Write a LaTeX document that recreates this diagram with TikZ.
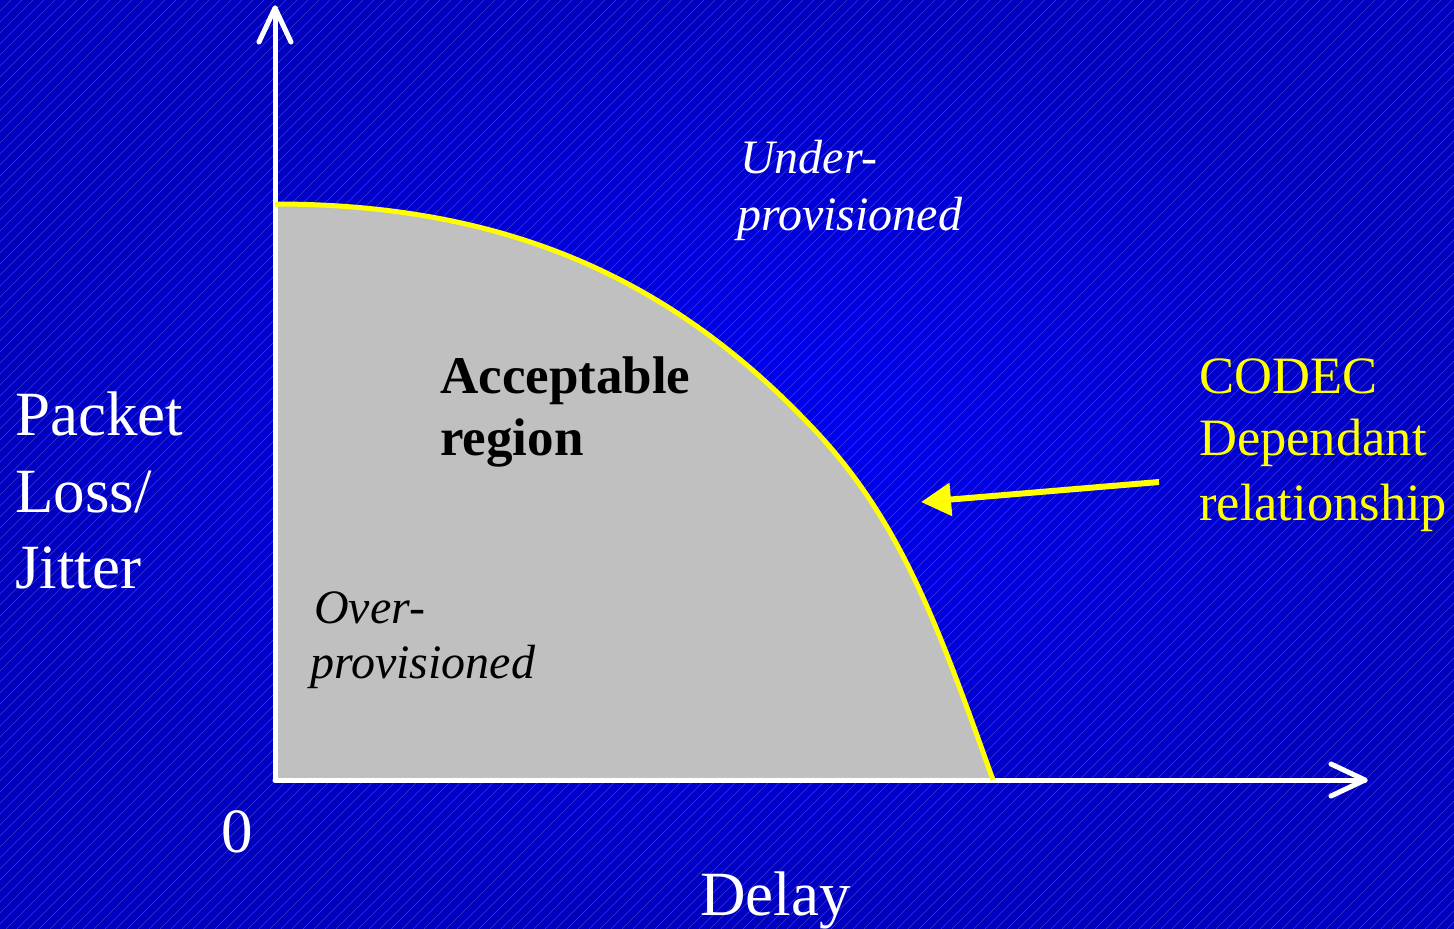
\documentclass[tikz,border=0pt]{standalone}
\usepackage{fontspec}
\setmainfont{Liberation Serif}
\usetikzlibrary{arrows.meta}
\definecolor{bgin}{RGB}{0,0,245}
\definecolor{bgout}{RGB}{0,0,190}
\definecolor{regiongray}{RGB}{192,192,192}
\definecolor{codecyellow}{RGB}{255,255,0}
\begin{document}
\begin{tikzpicture}[x=1pt,y=-1pt,
  axis/.style={draw=white,line width=5pt,line cap=round,line join=round},
  hatch/.style={draw=white,opacity=0.22,line width=0.6pt},
  lbl/.style={inner sep=0pt,anchor=base west,text=white},
  biglbl/.style={lbl,font=\fontsize{63}{76}\selectfont},
  boldlbl/.style={lbl,text=black,font=\fontsize{53}{62}\selectfont\bfseries},
  itlbl/.style={lbl,font=\fontsize{48}{57}\selectfont\itshape},
  codeclbl/.style={lbl,text=codecyellow,font=\fontsize{52.5}{63}\selectfont},
  curve/.style={draw=codecyellow,line width=5pt},
  pointer/.style={draw=codecyellow,line width=6pt,-{Triangle[length=30pt,width=32pt]}}]
% background
\useasboundingbox (0,0) rectangle (1454,929);
\shade[inner color=bgin,outer color=bgout] (0,0) rectangle (1454,929);
\begin{scope}
  \clip (0,0) rectangle (1454,929);
  \foreach \k in {0,11,...,2420} {
    \draw[hatch] (\k,0) -- (\k-929,929);
  }
\end{scope}
% coordinates
\coordinate (O) at (275,780);
\coordinate (ytip) at (275,8);
\coordinate (ywl) at (259,42);
\coordinate (ywr) at (291,42);
\coordinate (xtip) at (1365,780);
\coordinate (xwu) at (1331,764);
\coordinate (xwd) at (1331,796);
\coordinate (cstart) at (275,204);
\coordinate (cmid) at (807,422);
\coordinate (cend) at (993,780);
\coordinate (ctail) at (1159,482);
\coordinate (ctip) at (921,502);
% acceptable region
\fill[regiongray] (cstart) .. controls (505,204) and (669,278) .. (cmid)
  .. controls (899,516) and (936,620) .. (cend) -- (O) -- cycle;
% axes
\draw[axis] (O) -- (ytip);
\draw[axis] (ywl) -- (ytip) -- (ywr);
\draw[axis] (O) -- (xtip);
\draw[axis] (xwu) -- (xtip) -- (xwd);
% boundary curve
\draw[curve] (cstart) .. controls (505,204) and (669,278) .. (cmid)
  .. controls (899,516) and (936,620) .. (cend);
% pointer
\draw[pointer] (ctail) -- (ctip);
% labels
\node[biglbl] (packet) at (15,435) {Packet};
\node[biglbl] (loss) at (15,512) {Loss/};
\node[biglbl] (jitter) at (15,588) {Jitter};
\node[biglbl,anchor=base] (zero) at (237,852) {0};
\node[biglbl] (delay) at (700,915) {Delay};
\node[boldlbl] (acc1) at (440,393) {Acceptable};
\node[boldlbl] (acc2) at (440,455) {region};
\node[itlbl] (under1) at (740,173) {Under-};
\node[itlbl] (under2) at (737,230) {provisioned};
\node[itlbl,text=black] (over1) at (314,623) {Over-};
\node[itlbl,text=black] (over2) at (310,678) {provisioned};
\node[codeclbl] (codec1) at (1199,393) {CODEC};
\node[codeclbl] (codec2) at (1199,455) {Dependant};
\node[codeclbl] (codec3) at (1199,520) {relationship};
\end{tikzpicture}
\end{document}
